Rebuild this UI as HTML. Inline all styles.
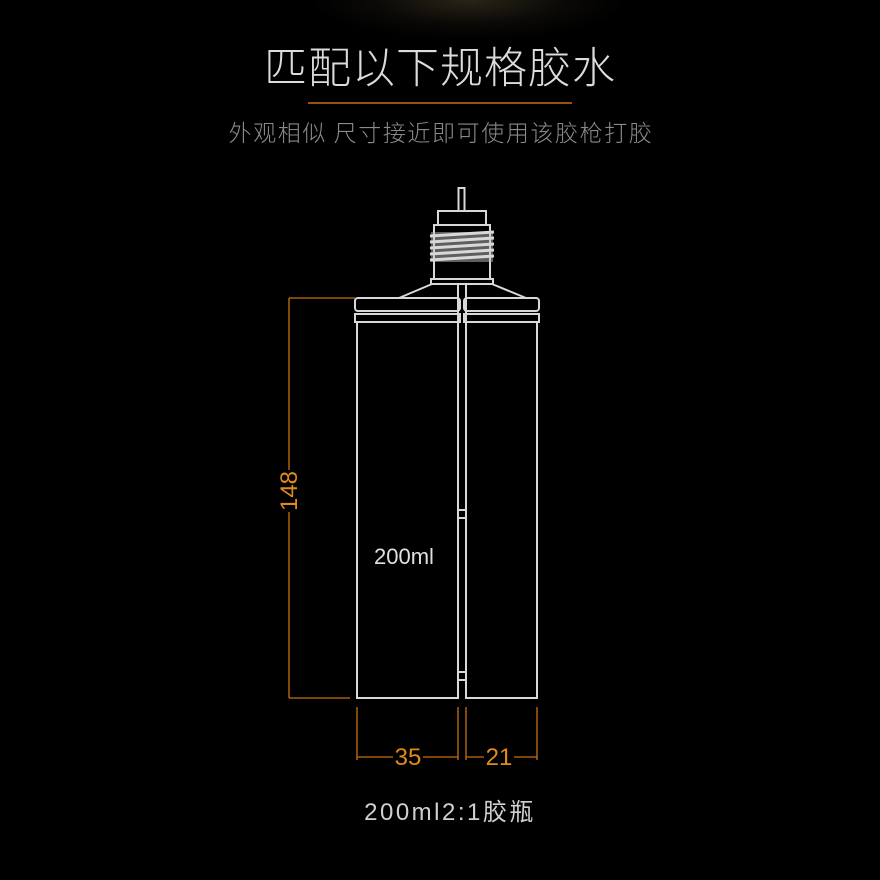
<!DOCTYPE html>
<html><head><meta charset="utf-8"><style>
html,body{margin:0;padding:0;background:#000;}
body{width:880px;height:880px;position:relative;overflow:hidden;background:radial-gradient(ellipse 160px 40px at 470px 0px,#2a2418 0%,#0a0906 60%,#000 100%),#000;}
svg{position:absolute;left:0;top:0;}
text{font-family:"Liberation Sans","Noto Sans CJK SC",sans-serif;}
</style></head><body>
<svg width="880" height="880" viewBox="0 0 880 880">
<text x="440" y="83" text-anchor="middle" font-size="43" fill="#dcdcdc" font-weight="300" letter-spacing="1" style="font-family:'Noto Sans CJK SC',sans-serif">匹配以下规格胶水</text>
<line x1="308" y1="103" x2="572" y2="103" stroke="#c8700e" stroke-width="1.5"/>
<text x="441" y="141" text-anchor="middle" font-size="23" fill="#8a8a8a" font-weight="300" letter-spacing="1.6" style="font-family:'Noto Sans CJK SC',sans-serif">外观相似 尺寸接近即可使用该胶枪打胶</text>
<g fill="none" stroke="#d8d8d8" stroke-width="2">
<rect x="458.5" y="188" width="6" height="23"/>
<rect x="438" y="211" width="48" height="14"/>
<rect x="434" y="225" width="56" height="54"/>
<rect x="431" y="279" width="62" height="5"/>
<path d="M399 298 L432 284 M492 284 L526 298"/>
<rect x="355" y="298" width="105" height="13" rx="3"/>
<rect x="464" y="298" width="75" height="13" rx="3"/>
<rect x="355" y="314" width="105" height="8"/>
<rect x="464" y="314" width="75" height="8"/>
<path d="M357 322 V698 H458 V284"/>
<path d="M466 284 V698 H537 V322"/>
<path d="M458 510 H466 M458 518 H466 M458 672 H466 M458 680 H466"/>
</g>
<rect x="431" y="232" width="62" height="30" fill="#bdbdbd" opacity="0.5"/>
<g stroke="#d8d8d8" stroke-width="3" fill="none">
<path d="M430 236 L494 232 M430 242 L494 238 M430 248 L494 244 M430 254 L494 250 M430 260 L494 256"/>
</g>
<g stroke="#c8700e" stroke-width="1.3" fill="none">
<path d="M289 298 H355 M289 698 H350 M289 298 V470 M289 512 V698"/>
<path d="M357 707 V760 M458 707 V760 M466 707 V760 M537 707 V760"/>
<path d="M357 757 H393 M423 757 H458 M466 757 H484 M514 757 H537"/>
</g>
<g fill="#e08a1a">
<text x="297" y="491" font-size="24" transform="rotate(-90 297 491)" text-anchor="middle">148</text>
<text x="408" y="765" font-size="24" text-anchor="middle">35</text>
<text x="499" y="765" font-size="24" text-anchor="middle">21</text>
</g>
<text x="374" y="564" font-size="22" fill="#e0e0e0">200ml</text>
<text x="450" y="820" font-size="24" fill="#d0d0d0" text-anchor="middle" letter-spacing="2.5">200ml2:1胶瓶</text>
</svg>
</body></html>
